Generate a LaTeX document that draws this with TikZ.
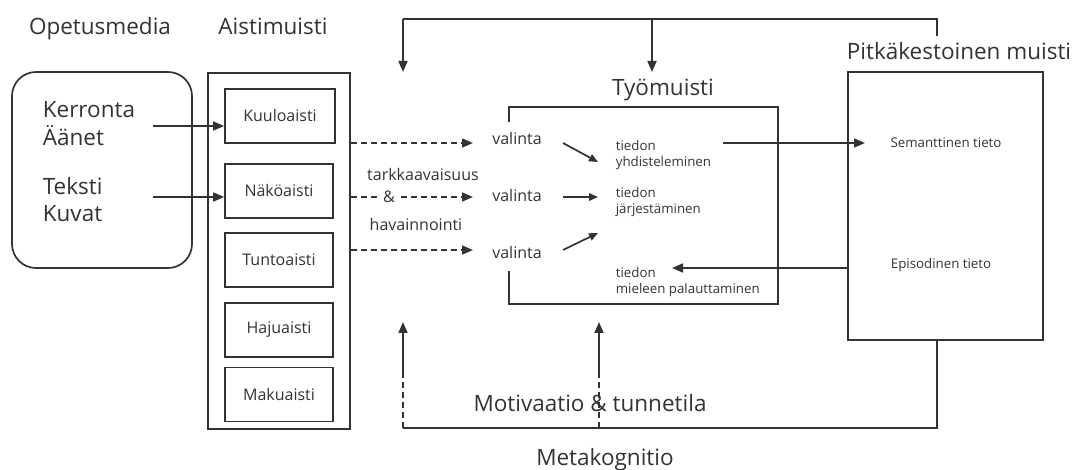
\documentclass[tikz,border=0pt]{standalone}
\usepackage{fontspec}
\setmainfont{Open Sans}
\usetikzlibrary{arrows.meta,calc}
\definecolor{ink}{HTML}{333333}
\begin{document}
\begin{tikzpicture}[x=1pt,y=-1pt,
  every path/.style={draw=ink, line width=1.7pt},
  every node/.style={text=ink},
  arr/.style={-{Triangle[length=11pt,width=9pt]}},
  sarr/.style={-{Triangle[length=9pt,width=7.5pt]}},
  dsh/.style={dash pattern=on 6pt off 4pt},
  big/.style={font=\fontsize{22.5}{26}\selectfont},
  med/.style={font=\fontsize{16}{19}\selectfont},
  small/.style={font=\fontsize{13.3}{16}\selectfont},
  sense/.style={draw, minimum width=108pt, minimum height=54pt, inner sep=0pt, med},
]
\useasboundingbox[draw=none] (0,0) rectangle (1079,470);

% titles
\node[big, anchor=base] (tOpet) at (100,35) {Opetusmedia};
\node[big, anchor=base] (tAist) at (273,35) {Aistimuisti};
\node[big, anchor=base] (tTyo) at (663,96) {Työmuisti};
\node[big, anchor=base] (tPitka) at (959,60) {Pitkäkestoinen muisti};
\node[big, anchor=base] (tMot) at (590,411) {Motivaatio \& tunnetila};
\node[big, anchor=base] (tMeta) at (605,465) {Metakognitio};

% media box
\node[draw, rounded corners=24pt, minimum width=180pt, minimum height=196pt] (media) at (102,170) {};
\node[big, anchor=base west, inner sep=0pt] (kerr) at (42,118) {Kerronta};
\node[big, anchor=base west, inner sep=0pt] (aan) at (42,146) {Äänet};
\node[big, anchor=base west, inner sep=0pt] (teks) at (42,195) {Teksti};
\node[big, anchor=base west, inner sep=0pt] (kuv) at (42,222) {Kuvat};

% sensory memory
\node[draw, minimum width=142pt, minimum height=356pt, inner sep=0pt] (aisti) at (279,251) {};
\node[sense, minimum width=110pt] (kuulo) at (280,116) {Kuuloaisti};
\node[sense] (nako) at (279,191) {Näköaisti};
\node[sense] (tunto) at (279,260) {Tuntoaisti};
\node[sense] (haju) at (279,330) {Hajuaisti};
\node[sense] (maku) at (279,394.5) {Makuaisti};

\coordinate (m1) at (153,126);
\coordinate (m2) at (153,197);
\draw[arr] (m1) -- (m1 -| kuulo.west);
\draw[arr] (m2) -- (m2 -| nako.west);

% attention
\coordinate (d1) at (473,143);
\coordinate (d2) at (473,197);
\coordinate (d3) at (473,250);
\draw[arr, dsh] (d1 -| aisti.east) -- (d1);
\draw[arr, dsh] (d2 -| aisti.east) -- (d2);
\draw[arr, dsh] (d3 -| aisti.east) -- (d3);
\node[med] (tark) at (423,175) {tarkkaavaisuus};
\node[med, fill=white, inner sep=3pt] (et) at (389,197) {\&};
\node[med] (hav) at (416,225) {havainnointi};

% valinta
\node[med, anchor=base] (v1) at (517,145) {valinta};
\node[med, anchor=base] (v2) at (517,202) {valinta};
\node[med, anchor=base] (v3) at (517,259) {valinta};

% working memory
\node[minimum width=267pt, minimum height=195pt, inner sep=0pt] (work) at (643.5,205.5) {};
\draw ($(work.north west)+(0,15)$) -- (work.north west) -- (work.north east)
  -- (work.south east) -- (work.south west) -- ($(work.south west)+(0,-33)$);

\node[small, align=left, anchor=west, inner sep=0pt] (yhd) at (615,155) {tiedon\\yhdisteleminen};
\node[small, align=left, anchor=west, inner sep=0pt] (jar) at (615,202) {tiedon\\järjestäminen};
\node[small, align=left, anchor=west, inner sep=0pt] (mie) at (615,282) {tiedon\\mieleen palauttaminen};

\draw[sarr] (563,143) coordinate (a1) -- (598,162) coordinate (b1);
\draw[sarr] (563,197) coordinate (a2) -- (598,197) coordinate (b2);
\draw[sarr] (563,250) coordinate (a3) -- (598,233) coordinate (b3);

% long-term memory
\node[draw, minimum width=195pt, minimum height=268pt, inner sep=0pt] (ltm) at (945.5,206) {};
\node[small] (sem) at (946,143) {Semanttinen tieto};
\node[small] (epi) at (941,265) {Episodinen tieto};

\coordinate (s1) at (723,143);
\coordinate (s2) at (865,143);
\draw[arr] (s1) -- (s2);
\coordinate (r1) at (672,268);
\draw[arr] (r1 -| ltm.west) -- (r1);

% top feedback
\coordinate (tp) at (937,19);
\coordinate (tl) at (403,19);
\coordinate (tm) at (652,19);
\draw (937,36) coordinate (tpa) -- (tp) -- (tl);
\draw[arr] (tl) -- (403,72) coordinate (tla);
\draw[arr] (tm) -- (652,72) coordinate (tma);

% bottom
\coordinate (bp) at (937,428);
\coordinate (bl) at (403,428);
\coordinate (bm) at (599,428);
\draw (bp |- ltm.south) -- (bp) -- (bl);
\draw[dsh] (bl) -- (403,375) coordinate (bl2);
\draw[arr] (bl2) -- (403,322);
\draw[dsh] (bm) -- (599,378) coordinate (bm2);
\draw[arr] (bm2) -- (599,322);
\end{tikzpicture}
\end{document}
